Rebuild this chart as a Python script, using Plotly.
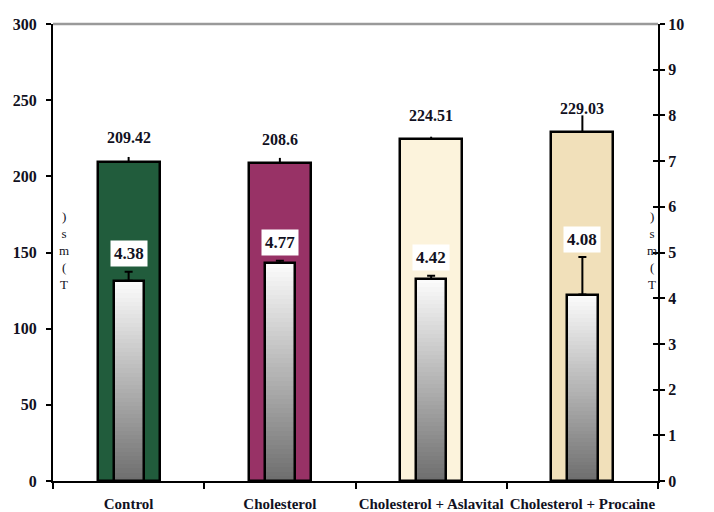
import plotly.graph_objects as go

# Data
categories = ["Control", "Cholesterol", "Cholesterol + Aslavital", "Cholesterol + Procaine"]
main_values = [209.42, 208.6, 224.51, 229.03]
main_err = [3.3, 3.5, 1.5, 11.0]
inner_values = [4.38, 4.77, 4.42, 4.08]
inner_err = [0.2, 0.05, 0.07, 0.82]
left_ticks = [0, 50, 100, 150, 200, 250, 300]
right_ticks = list(range(0, 11))

main_colors = ["#215c3c", "#983266", "#fcf3dc", "#f1e0ba"]

serif = "Liberation Serif, Times New Roman, serif"
ink = "#111122"

def b(s):
    return f"<b>{s}</b>"

fig = go.Figure()

# Main bars (left axis)
fig.add_trace(go.Bar(
    x=categories, y=main_values, width=0.41,
    marker=dict(color=main_colors, line=dict(color="black", width=2.5)),
    error_y=dict(type="data", array=main_err, arrayminus=[0] * 4, symmetric=False,
                 color="black", thickness=2, width=0),
    yaxis="y", showlegend=False, hoverinfo="skip",
))

# Inner bars (right axis) with a vertical grey-to-white gradient built from slices
n_steps = 48
def shade(t):
    # t = 0 at bottom, 1 at top
    lo, hi = (110, 110, 110), (252, 252, 252)
    c = [round(lo[k] + (hi[k] - lo[k]) * t) for k in range(3)]
    return f"rgb({c[0]},{c[1]},{c[2]})"

for i in range(n_steps):
    fig.add_trace(go.Bar(
        x=categories,
        y=[v / n_steps for v in inner_values],
        base=[v * i / n_steps for v in inner_values],
        width=0.2,
        marker=dict(color=shade((i + 0.5) / n_steps), line=dict(width=0)),
        yaxis="y2", showlegend=False, hoverinfo="skip",
    ))

# Outline and error bars for inner bars
fig.add_trace(go.Bar(
    x=categories, y=inner_values, width=0.2,
    marker=dict(color="rgba(0,0,0,0)", line=dict(color="black", width=2.5)),
    error_y=dict(type="data", array=inner_err, arrayminus=[0] * 4, symmetric=False,
                 color="black", thickness=2, width=4),
    yaxis="y2", showlegend=False, hoverinfo="skip",
))

# Value labels
for c, v in zip(categories, main_values):
    fig.add_annotation(x=c, y=v, yref="y", text=b(f"{v:g}"), showarrow=False,
                       yshift=24, font=dict(family=serif, size=16, color=ink))
for c, v, e in zip(categories, inner_values, inner_err):
    fig.add_annotation(x=c, y=v + e, yref="y2", text=b(f"{v:g}"), showarrow=False,
                       yshift=18, bgcolor="white", borderpad=3,
                       font=dict(family=serif, size=17, color=ink))

# Axis titles (stacked characters)
for xpos in (0.018, 0.99):
    fig.add_annotation(xref="paper", yref="paper", x=xpos, y=0.505, xanchor="center",
                       text=")<br>s<br>m<br>(<br>T", showarrow=False, align="center",
                       font=dict(family=serif, size=13, color=ink))

# Grey top border
fig.add_shape(type="line", xref="paper", yref="paper", x0=0, x1=1, y0=1, y1=1,
              line=dict(color="#9a9a9a", width=2.5))

tick_font = dict(family=serif, size=16, color=ink, weight="bold")

fig.update_layout(
    width=714, height=512,
    margin=dict(l=53, r=56, t=24, b=31),
    paper_bgcolor="white", plot_bgcolor="white",
    barmode="overlay", bargap=0,
    font=dict(family=serif, size=14, color=ink),
    xaxis=dict(type="category", range=[-0.5, 3.5], tickson="boundaries",
               ticks="outside", ticklen=6, tickwidth=2, tickcolor="black",
               showline=True, linecolor="black", linewidth=2, showgrid=False,
               tickangle=0, ticklabelstandoff=8, automargin=False,
               tickfont=dict(family=serif, size=15, color=ink, weight="bold")),
    yaxis=dict(range=[0, 300], tickvals=left_ticks, ticks="outside", ticklen=5,
               tickwidth=2, tickcolor="black", showline=True, linecolor="black",
               linewidth=2, showgrid=False, zeroline=False, ticklabelstandoff=6,
               automargin=False, tickfont=tick_font),
    yaxis2=dict(range=[0, 10], tickvals=right_ticks, overlaying="y", side="right",
                ticks="outside", ticklen=5, tickwidth=2, tickcolor="black",
                showline=True, linecolor="black", linewidth=2, showgrid=False,
                zeroline=False, automargin=False, tickfont=tick_font),
    yaxis3=dict(range=[0, 10], tickvals=right_ticks, overlaying="y", side="right",
                ticks="inside", ticklen=5, tickwidth=2, tickcolor="black",
                showticklabels=False, showline=False, showgrid=False, zeroline=False,
                automargin=False),
)

# Empty trace so the inward tick marks of the right axis are drawn
fig.add_trace(go.Scatter(x=[categories[0]], y=[None], yaxis="y3",
                         showlegend=False, hoverinfo="skip"))

fig.write_html("out.html")
